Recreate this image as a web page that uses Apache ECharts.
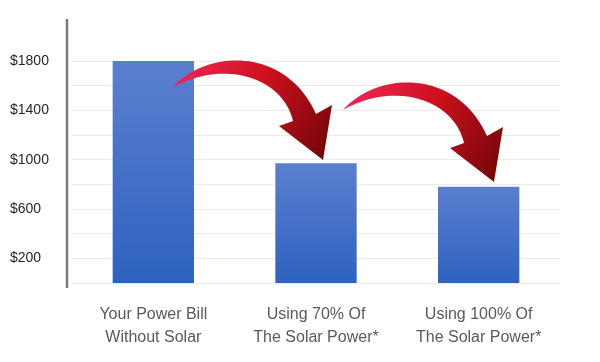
<!DOCTYPE html>
<html>
<head>
<meta charset="utf-8">
<script src="https://cdn.jsdelivr.net/npm/echarts@6/dist/echarts.min.js"></script>
<style>
html,body{margin:0;padding:0;background:#fff;}
#chart{width:600px;height:362px;}
</style>
</head>
<body>
<div id="chart"></div>
<script>
// ---- data ----
var categories = ['Your Power Bill\nWithout Solar', 'Using 70% Of\nThe Solar Power*', 'Using 100% Of\nThe Solar Power*'];
var billValues = [1800, 970, 780];
var yLabelValues = [200, 600, 1000, 1400, 1800];

// ---- decorative arrow shape (cubic bezier sampling) ----
function cubic(p0, p1, p2, p3, n) {
  var pts = [];
  for (var i = 0; i <= n; i++) {
    var t = i / n, u = 1 - t;
    var a = u*u*u, b = 3*u*u*t, c = 3*u*t*t, d = t*t*t;
    pts.push([a*p0[0]+b*p1[0]+c*p2[0]+d*p3[0], a*p0[1]+b*p1[1]+c*p2[1]+d*p3[1]]);
  }
  return pts;
}
function arrowPoints(dx, dy) {
  var outer = cubic([172, 88], [205, 50], [285, 45], [316, 114], 40);
  var inner = cubic([293, 121], [283, 78], [225, 58], [172, 88], 40);
  var pts = outer.concat([[332, 105], [323, 160], [279, 126]]).concat(inner);
  return pts.map(function (p) { return [p[0] + dx, p[1] + dy]; });
}
function arrowFill() {
  return new echarts.graphic.LinearGradient(0, 0, 1, 1, [
    { offset: 0, color: '#f2295c' },
    { offset: 0.45, color: '#d0101f' },
    { offset: 1, color: '#6e0606' }
  ]);
}

var chart = echarts.init(document.getElementById('chart'), null, { renderer: 'canvas' });
chart.setOption({
  animation: false,
  backgroundColor: '#ffffff',
  grid: { left: 72, right: 40, top: 61, bottom: 79 },
  xAxis: {
    type: 'category',
    data: categories,
    axisLine: { show: false },
    axisTick: { show: false },
    axisLabel: {
      interval: 0,
      hideOverlap: false,
      color: '#5a5a5a',
      fontFamily: 'Liberation Sans, Arial, sans-serif',
      fontSize: 16,
      lineHeight: 23,
      margin: 20
    }
  },
  yAxis: {
    type: 'value',
    min: 0,
    max: 1800,
    interval: 200,
    axisLine: { show: false },
    axisTick: { show: false },
    splitLine: { lineStyle: { color: '#ebebeb', width: 1 } },
    axisLabel: {
      color: '#262626',
      fontFamily: 'Liberation Sans, Arial, sans-serif',
      fontSize: 14,
      align: 'left',
      margin: 62,
      formatter: function (v) { return yLabelValues.indexOf(v) >= 0 ? '$' + v : ''; }
    }
  },
  series: [{
    type: 'bar',
    data: billValues,
    barWidth: '50%',
    itemStyle: {
      color: new echarts.graphic.LinearGradient(0, 0, 0, 1, [
        { offset: 0, color: '#5b7fcf' },
        { offset: 1, color: '#2e62c0' }
      ])
    }
  }],
  graphic: [
    { type: 'line', shape: { x1: 67, y1: 19, x2: 67, y2: 288 }, style: { stroke: '#7a7a7a', lineWidth: 2.5 }, z: 100 },
    { type: 'polygon', shape: { points: arrowPoints(0, 0) }, style: { fill: arrowFill() }, z: 100 },
    { type: 'polygon', shape: { points: arrowPoints(171, 22) }, style: { fill: arrowFill() }, z: 100 }
  ]
});
</script>
</body>
</html>
